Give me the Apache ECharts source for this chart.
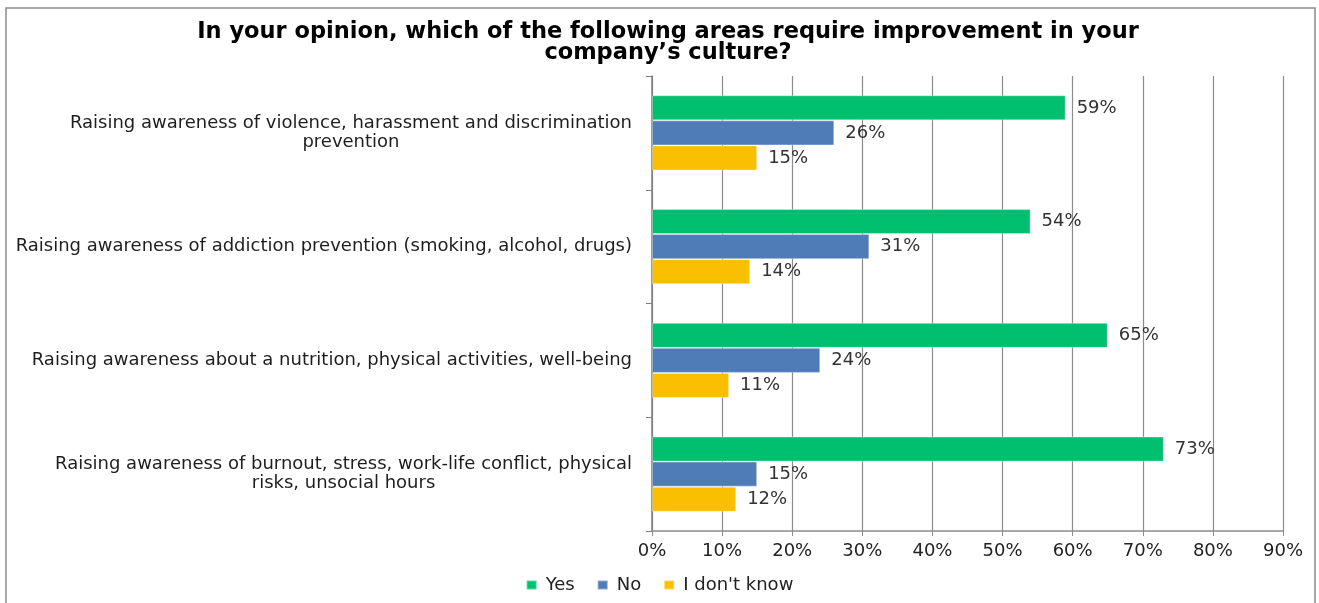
<!DOCTYPE html>
<html>
<head>
<meta charset="utf-8">
<script src="https://cdn.jsdelivr.net/npm/echarts@6/dist/echarts.min.js"></script>
<style>
  html, body { margin: 0; padding: 0; background: #fff; }
  #chart { width: 1319px; height: 603px; }
</style>
</head>
<body>
<div id="chart"></div>
<script>
// Survey areas, listed top to bottom
const categories = [
  'Raising awareness of violence, harassment and discrimination\nprevention',
  'Raising awareness of addiction prevention (smoking, alcohol, drugs)',
  'Raising awareness about a nutrition, physical activities, well-being',
  'Raising awareness of burnout, stress, work-life conflict, physical\nrisks, unsocial hours'
];
const seriesNames = ['Yes', 'No', "I don't know"];
const yesValues = [59, 54, 65, 73];
const noValues = [26, 31, 24, 15];
const dontKnowValues = [15, 14, 11, 12];
const xTicks = [0, 10, 20, 30, 40, 50, 60, 70, 80, 90];

const colors = ['#00BF6F', '#4F7CB6', '#FABF00'];
const labelFont = '"DejaVu Sans", sans-serif';
const labelSize = 18;

const chart = echarts.init(document.getElementById('chart'));

function barSeries(name, values, color) {
  return {
    name: name,
    type: 'bar',
    data: values,
    barGap: '0%',
    barCategoryGap: '34%',
    itemStyle: { color: color, borderColor: 'rgba(255,255,255,0.35)', borderWidth: 1 },
    label: {
      show: true,
      position: 'right',
      distance: 11,
      formatter: '{c}%',
      color: '#333',
      fontFamily: labelFont,
      fontSize: labelSize
    }
  };
}

chart.setOption({
  animation: false,
  title: {
    text: 'In your opinion, which of the following areas require improvement in your\ncompany\u2019s culture?',
    left: 663,
    top: 17,
    textAlign: 'center',
    textStyle: {
      fontFamily: '"DejaVu Sans", sans-serif',
      fontWeight: 'bold',
      fontSize: 22.5,
      lineHeight: 21,
      color: '#000'
    }
  },
  graphic: [{
    type: 'rect',
    shape: { x: 6, y: 8, width: 1309, height: 620 },
    style: { fill: 'none', stroke: '#8c8c8c', lineWidth: 1.5 },
    silent: true,
    z: -1
  }],
  legend: {
    data: seriesNames,
    bottom: 4,
    left: 'center',
    itemWidth: 10,
    itemHeight: 9,
    itemGap: 22,
    icon: 'rect',
    textStyle: { fontFamily: labelFont, fontSize: labelSize, color: '#222', padding: [0, 0, 0, 4] }
  },
  grid: { left: 652, right: 36, top: 76, bottom: 72, containLabel: false },
  xAxis: {
    type: 'value',
    min: xTicks[0],
    max: xTicks[xTicks.length - 1],
    interval: 10,
    axisLabel: {
      formatter: '{value}%',
      color: '#222',
      fontFamily: labelFont,
      fontSize: labelSize,
      margin: 11
    },
    axisLine: { show: true, lineStyle: { color: '#8c8c8c', width: 1.5 } },
    axisTick: { show: true, length: 5, lineStyle: { color: '#8c8c8c' } },
    splitLine: { show: true, lineStyle: { color: '#8c8c8c', width: 1.2 } }
  },
  yAxis: {
    type: 'category',
    data: categories,
    inverse: true,
    axisLine: { show: true, lineStyle: { color: '#7f7f7f', width: 1.5 } },
    axisTick: { show: true, length: 6, inside: false, lineStyle: { color: '#7f7f7f' } },
    axisLabel: {
      margin: 20,
      color: '#1e1e1e',
      fontFamily: labelFont,
      fontSize: labelSize,
      lineHeight: 19,
      formatter: function (v) {
        return v.split('\n').map(function (s) { return '{c|' + s + '}'; }).join('\n');
      },
      rich: { c: { align: 'center', fontFamily: labelFont, fontSize: labelSize, lineHeight: 19, color: '#1e1e1e' } }
    }
  },
  series: [
    barSeries(seriesNames[0], yesValues, colors[0]),
    barSeries(seriesNames[1], noValues, colors[1]),
    barSeries(seriesNames[2], dontKnowValues, colors[2])
  ]
});
</script>
</body>
</html>
